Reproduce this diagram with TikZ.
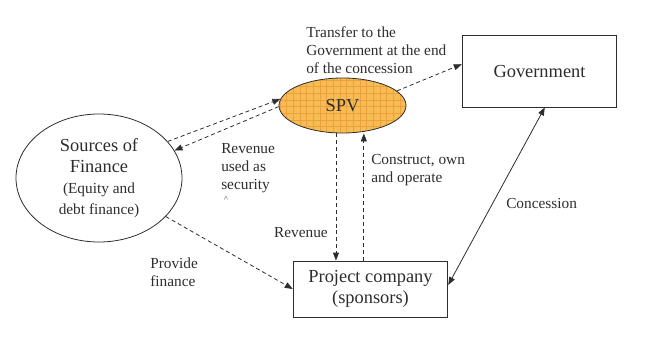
\documentclass[tikz,border=0pt]{standalone}
\usepackage{fontspec}
\setmainfont{Liberation Serif}
\usetikzlibrary{arrows.meta, shapes.geometric, calc}
\definecolor{spvorange}{RGB}{248,188,84}
\definecolor{spvgrid}{RGB}{236,160,62}
\definecolor{inkgray}{RGB}{45,45,45}
\newcommand{\bigtxt}{\fontsize{13.8}{15.8}\selectfont}
\newcommand{\smalltxt}{\fontsize{11.5}{13.5}\selectfont}

\begin{document}
\begin{tikzpicture}[x=0.75pt,y=-0.75pt,
  party/.style={draw=inkgray,semithick,inner sep=0pt,align=center,font=\bigtxt,text=inkgray},
  flow/.style={draw=inkgray,semithick,dash pattern=on 3pt off 2.2pt,-{Triangle[length=6pt,width=4.5pt]}},
  lbl/.style={font=\smalltxt,align=left,text=inkgray,inner sep=0pt}]
  \useasboundingbox (0,0) rectangle (647,350);
  % orange checked fill behind the SPV
  \fill[spvorange] (342.5,105.5) ellipse [x radius=63.5, y radius=27.5];
  \begin{scope}
    \clip (342.5,105.5) ellipse [x radius=63.5, y radius=27.5];
    \draw[spvgrid,line width=0.35pt,step=5pt] (275,75) grid (410,137);
  \end{scope}
  % the parties
  \node[party,ellipse,minimum width=124.5pt,minimum height=96pt] (sources) at (99,178)
    {Sources of\\Finance\\\smalltxt(Equity and\\\smalltxt debt finance)};
  \node[party,ellipse,minimum width=95.25pt,minimum height=41.25pt] (spv) at (342.5,105.5) {SPV};
  \node[party,rectangle,minimum width=116pt,minimum height=54pt] (gov) at (539.5,71) {Government};
  \node[party,rectangle,minimum width=116pt,minimum height=42pt] (proj) at (370.5,289)
    {Project company\\(sponsors)};
  % dashed flows
  \draw[flow] (spv.15) -- (gov.175);
  \draw[flow] (sources.28) -- (spv.174);
  \draw[flow] (spv.181) -- (sources.20);
  \draw[flow] ([xshift=-4.9pt]spv.south) -- ([xshift=-4.9pt]spv.south |- proj.north);
  \draw[flow] ([xshift=16pt]spv.south |- proj.north) -- ([xshift=16pt]spv.south);
  \draw[flow] (sources.-30) -- (proj.west);
  % concession
  \draw[draw=inkgray,semithick,{Triangle[length=6pt,width=4.5pt]}-{Triangle[length=6pt,width=4.5pt]}]
    ([yshift=3pt]proj.east) -- ([xshift=4pt]gov.south);
  % labels
  \node[lbl,anchor=west] (transfer) at (306,50) {Transfer to the\\Government at the end\\of the concession};
  \node[lbl,anchor=west] (security) at (221,168) {Revenue\\used as\\security};
  \node[lbl,anchor=north,font=\fontsize{6}{6}\selectfont] (mark) at (226,196) {\textasciicircum};
  \node[lbl,anchor=west] (construct) at (371,170) {Construct, own\\and operate};
  \node[lbl,anchor=east] (revenue) at (328,233) {Revenue};
  \node[lbl,anchor=west] (provide) at (150,272.5) {Provide\\finance};
  \node[lbl,anchor=west] (concession) at (506,203) {Concession};
\end{tikzpicture}
\end{document}
